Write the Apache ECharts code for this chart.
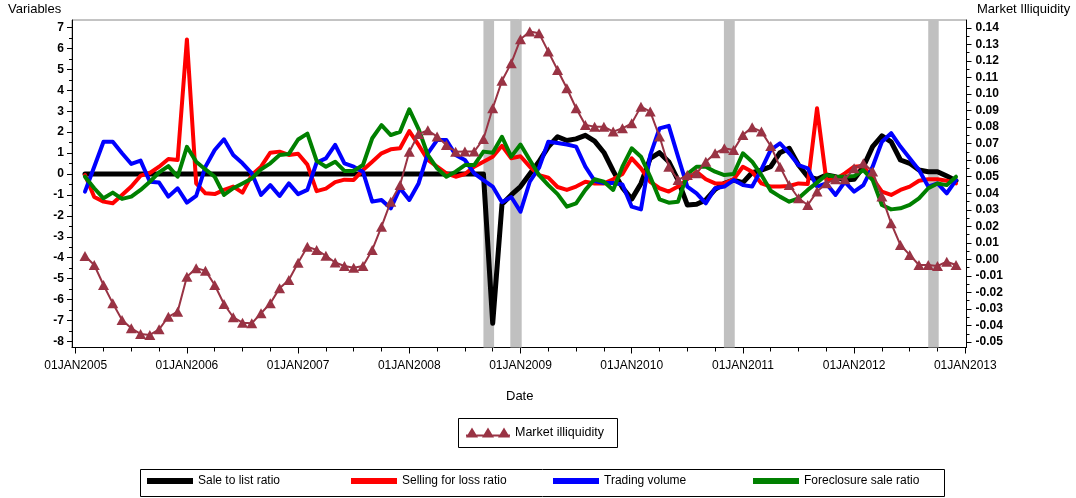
<!DOCTYPE html>
<html><head><meta charset="utf-8">
<script src="https://cdn.jsdelivr.net/npm/echarts@6/dist/echarts.min.js"></script>
<style>html,body{margin:0;padding:0;background:#fff}#c{width:1076px;height:498px}</style>
</head><body><div id="c"></div>
<script>
// x positions: months since 01JAN2005 (observations Feb 2005 .. Dec 2012)
const months = [];
for (let m = 1; m <= 95; m++) months.push(m);

const saleToList = [
  0,0,0,0,0,0,0,0,0,0, 0,0,0,0,0,0,0,0,0,0, 0,0,0,0,0,0,0,0,0,0, 0,0,0,0,0,0,0,0,0,0, 0,0,0,0,
  -7.13,-1.45,-1.0,-0.6,0.0,0.6,1.3,1.78,1.6,1.68,
  1.85,1.57,1.03,0.15,-0.65,-1.2,-0.45,0.75,1.02,0.59,
  -0.29,-1.48,-1.45,-1.24,-0.73,-0.45,-0.29,-0.41,0.07,0.19,
  0.35,1.02,1.23,0.43,-0.13,-0.25,-0.05,-0.13,-0.29,-0.25,
  0.35,1.31,1.82,1.54,0.67,0.51,0.19,0.11,0.11,-0.1,
  -0.32
];
const sellingForLoss = [
  -0.05,-1.1,-1.32,-1.4,-1.0,-0.6,-0.08,0.05,0.35,0.72,
  0.67,6.43,-0.45,-0.92,-0.96,-0.76,-0.6,-0.89,-0.05,0.35,
  1.02,1.07,0.91,0.97,0.45,-0.82,-0.7,-0.39,-0.27,-0.28,
  0.19,0.59,0.99,1.18,1.23,2.05,1.39,0.67,0.35,0.03,
  -0.13,0.0,0.35,0.59,0.83,1.35,0.75,0.85,0.35,-0.05,
  -0.17,-0.62,-0.76,-0.6,-0.37,-0.45,-0.45,-0.25,0.0,0.75,
  0.27,-0.37,-0.68,-0.84,-0.6,-0.25,0.11,-0.25,-0.45,-0.45,
  -0.25,0.35,0.11,-0.45,-0.6,-0.6,-0.57,-0.45,-0.48,3.14,
  -0.29,-0.25,0.03,0.35,0.38,-0.21,-0.84,-1.0,-0.76,-0.6,
  -0.32,-0.25,-0.25,-0.32,-0.45
];
const tradingVolume = [
  -0.84,0.35,1.54,1.54,0.99,0.48,0.64,-0.37,-0.41,-1.08,
  -0.68,-1.37,-1.05,0.35,1.15,1.66,0.91,0.51,0.03,-1.0,
  -0.53,-1.05,-0.45,-0.96,-0.76,0.55,0.75,1.39,0.51,0.35,
  0.11,-1.32,-1.24,-1.64,-0.68,-1.24,-0.45,0.99,1.62,1.62,
  0.91,0.67,0.03,-0.29,-0.6,-1.35,-1.1,-1.8,-0.37,0.3,
  1.54,1.48,1.41,1.31,0.35,-0.33,-0.43,-0.43,-0.5,-1.56,
  -1.69,0.9,2.18,2.3,0.83,-0.6,-0.92,-1.4,-0.68,-0.6,
  -0.29,-0.53,-0.6,0.22,1.15,1.47,0.99,0.43,0.27,-0.6,
  -0.45,-1.0,-0.37,-0.84,-0.53,0.35,1.54,1.95,1.31,0.75,
  0.19,-0.6,-0.45,-0.92,-0.29
];
const foreclosureSale = [
  -0.13,-0.68,-1.16,-0.89,-1.19,-1.08,-0.76,-0.37,0.08,0.38,
  -0.13,1.3,0.59,0.22,-0.13,-1.0,-0.68,-0.45,-0.21,0.22,
  0.51,0.91,0.96,1.65,1.93,0.63,0.35,0.59,0.15,0.15,
  0.43,1.71,2.34,1.86,2.02,3.09,2.15,0.91,0.27,-0.13,
  0.11,0.43,0.43,1.07,1.02,1.78,0.83,1.41,0.67,-0.05,
  -0.53,-0.96,-1.56,-1.4,-0.76,-0.25,-0.37,-0.76,0.35,1.23,
  0.83,-0.13,-1.21,-1.37,-1.32,0.0,0.35,0.35,0.11,-0.05,
  0.0,0.99,0.59,-0.05,-0.8,-1.08,-1.32,-1.16,-0.76,-0.41,
  -0.05,-0.13,-0.13,-0.1,0.19,-0.29,-1.48,-1.69,-1.64,-1.48,
  -1.16,-0.68,-0.45,-0.53,-0.13
];
const marketIlliquidity = [
  0.002,-0.0034,-0.0155,-0.0266,-0.0367,-0.0417,-0.0451,-0.0457,-0.0423,-0.0347,
  -0.0316,-0.0105,-0.0054,-0.0068,-0.0155,-0.027,-0.035,-0.0383,-0.0387,-0.0326,
  -0.0266,-0.0175,-0.0125,-0.002,0.0077,0.0057,0.0022,-0.0019,-0.004,-0.0051,
  -0.004,0.0057,0.0198,0.0349,0.045,0.0651,0.0758,0.0781,0.0743,0.0692,
  0.0651,0.0652,0.0652,0.0728,0.0914,0.108,0.1187,0.1332,0.1378,0.1368,
  0.1257,0.1146,0.1035,0.0914,0.0813,0.0803,0.0803,0.0773,0.0793,0.0823,
  0.0924,0.0894,0.0743,0.0561,0.048,0.0511,0.0521,0.0591,0.0642,0.0672,
  0.0662,0.0753,0.0799,0.0773,0.0686,0.0561,0.045,0.037,0.0329,0.041,
  0.046,0.0485,0.0485,0.0551,0.0581,0.0531,0.038,0.0218,0.0087,0.0027,
  -0.0034,-0.0034,-0.004,-0.0014,-0.0034
];
// shaded periods (months since 01JAN2005)
const shadedPeriods = [[44.0, 45.15], [46.9, 48.13], [69.95, 71.12], [92.0, 93.13]];

const yearTicks = [0, 12, 24, 36, 48, 60, 72, 84, 96];
const quarterTicks = [0,3,6,9,12,15,18,21,24,27,30,33,36,39,42,45,48,51,54,57,60,63,66,69,72,75,78,81,84,87,90,93,96];
const leftTicks = [-8,-7,-6,-5,-4,-3,-2,-1,0,1,2,3,4,5,6,7];
const leftMinor = [-7.5,-6.5,-5.5,-4.5,-3.5,-2.5,-1.5,-0.5,0.5,1.5,2.5,3.5,4.5,5.5,6.5];
const rightTicks = [-0.05,-0.04,-0.03,-0.02,-0.01,0,0.01,0.02,0.03,0.04,0.05,0.06,0.07,0.08,0.09,0.10,0.11,0.12,0.13,0.14];
const rightMinor = [-0.045,-0.035,-0.025,-0.015,-0.005,0.005,0.015,0.025,0.035,0.045,0.055,0.065,0.075,0.085,0.095,0.105,0.115,0.125,0.135];

const FONT = 'Liberation Sans, Arial, sans-serif';
const X_MIN = -0.4, X_MAX = 96.13;
const YL_MIN = -8.29, YL_MAX = 7.36;
const YR_MIN = -0.0533, YR_MAX = 0.1448;

const pairs = arr => months.map((m, i) => [m, arr[i]]);
const lineSeries = (name, arr, color, width) => ({
  name, type: 'line', xAxisIndex: 0, yAxisIndex: 0, data: pairs(arr),
  symbol: 'none', z: 3, animation: false,
  lineStyle: { color, width, join: 'round', cap: 'round' }, itemStyle: { color }
});

const chart = echarts.init(document.getElementById('c'), null, { renderer: 'canvas' });
const ILL = '#993344';
const bottomLegend = (name, left) => ({
  data: [name], left, top: 475, padding: 0, icon: 'rect', itemWidth: 46, itemHeight: 6,
  textStyle: { fontFamily: FONT, fontSize: 12, color: '#000' }, selectedMode: false
});

chart.setOption({
  animation: false,
  backgroundColor: '#fff',
  grid: { left: 72, top: 20, width: 894.5, height: 327.5, show: true, borderColor: '#888', borderWidth: 1 },
  xAxis: [
    { type: 'value', min: X_MIN, max: X_MAX, position: 'bottom',
      axisLine: { show: true, onZero: false, lineStyle: { color: '#000', width: 1 } },
      axisTick: { show: true, length: 6, customValues: yearTicks, lineStyle: { color: '#000' } },
      axisLabel: { customValues: yearTicks, margin: 12, fontFamily: FONT, fontSize: 12, color: '#000',
        formatter: v => '01JAN' + (2005 + Math.round(v / 12)) },
      splitLine: { show: false } },
    { type: 'value', min: X_MIN, max: X_MAX, position: 'bottom', offset: 0,
      axisLine: { show: false, onZero: false },
      axisTick: { show: true, length: 4, customValues: quarterTicks, lineStyle: { color: '#000' } },
      axisLabel: { show: false }, splitLine: { show: false } }
  ],
  yAxis: [
    { type: 'value', min: YL_MIN, max: YL_MAX, position: 'left',
      axisLine: { show: true, onZero: false, lineStyle: { color: '#000' } },
      axisTick: { show: true, length: 5, customValues: leftTicks, lineStyle: { color: '#000' } },
      axisLabel: { customValues: leftTicks, margin: 8, fontFamily: FONT, fontSize: 12, fontWeight: 'bold', color: '#000' },
      splitLine: { show: false } },
    { type: 'value', min: YR_MIN, max: YR_MAX, position: 'right',
      axisLine: { show: true, onZero: false, lineStyle: { color: '#000' } },
      axisTick: { show: true, length: 5, customValues: rightTicks, lineStyle: { color: '#000' } },
      axisLabel: { customValues: rightTicks, margin: 9, fontFamily: FONT, fontSize: 12, fontWeight: 'bold', color: '#000',
        formatter: v => (Math.round(v * 100) / 100).toFixed(2) },
      splitLine: { show: false } },
    { type: 'value', min: YL_MIN, max: YL_MAX, position: 'left', offset: 0,
      axisLine: { show: false, onZero: false },
      axisTick: { show: true, length: 3, customValues: leftMinor, lineStyle: { color: '#000' } },
      axisLabel: { show: false }, splitLine: { show: false } },
    { type: 'value', min: YR_MIN, max: YR_MAX, position: 'right', offset: 0,
      axisLine: { show: false, onZero: false },
      axisTick: { show: true, length: 3, customValues: rightMinor, lineStyle: { color: '#000' } },
      axisLabel: { show: false }, splitLine: { show: false } }
  ],
  legend: [
    { data: ['Market illiquidity'], left: 466, top: 426, padding: 0, itemWidth: 44, itemHeight: 10,
      icon: 'path://M0,7L44,7L44,9L0,9Z M0,10L6,0L12,10Z M16,10L22,0L28,10Z M32,10L38,0L44,10Z',
      itemStyle: { color: ILL }, textStyle: { fontFamily: FONT, fontSize: 12.5, color: '#000' }, selectedMode: false },
    bottomLegend('Sale to list ratio', 147),
    bottomLegend('Selling for loss ratio', 351),
    bottomLegend('Trading volume', 553),
    bottomLegend('Foreclosure sale ratio', 753)
  ],
  graphic: [
    { type: 'text', left: 8, top: 3, style: { text: 'Variables', font: '13px ' + FONT, fill: '#000' } },
    { type: 'text', left: 977, top: 3, style: { text: 'Market Illiquidity', font: '13px ' + FONT, fill: '#000' } },
    { type: 'text', left: 506, top: 390, style: { text: 'Date', font: '13px ' + FONT, fill: '#000' } },
    { type: 'rect', shape: { x: 458.5, y: 418.5, width: 159, height: 29 }, style: { fill: 'none', stroke: '#000', lineWidth: 1 } },
    { type: 'rect', shape: { x: 140.5, y: 469.5, width: 804, height: 27 }, style: { fill: 'none', stroke: '#000', lineWidth: 1 } }
  ],
  series: [
    { name: 'shade', type: 'line', xAxisIndex: 0, yAxisIndex: 0, data: [], z: 1, silent: true,
      markArea: { silent: true, itemStyle: { color: '#c0c0c0', opacity: 1 },
        data: shadedPeriods.map(p => [{ xAxis: p[0] }, { xAxis: p[1] }]) } },
    lineSeries('Sale to list ratio', saleToList, '#000000', 5),
    lineSeries('Selling for loss ratio', sellingForLoss, '#ff0000', 4),
    lineSeries('Trading volume', tradingVolume, '#0000ff', 4),
    lineSeries('Foreclosure sale ratio', foreclosureSale, '#008000', 4),
    { name: 'Market illiquidity', type: 'line', xAxisIndex: 0, yAxisIndex: 1, data: pairs(marketIlliquidity),
      symbol: 'triangle', symbolSize: [11, 10], showAllSymbol: true, z: 4,
      lineStyle: { color: ILL, width: 2 }, itemStyle: { color: ILL } }
  ]
});
</script>
</body></html>
